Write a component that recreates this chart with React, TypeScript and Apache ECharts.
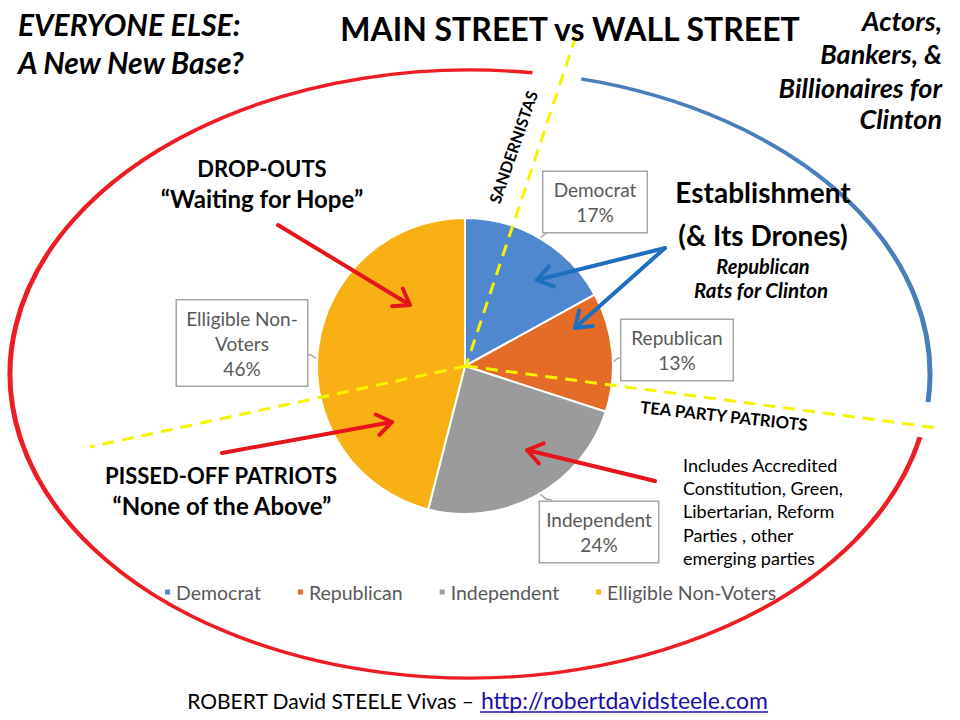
import React, { useEffect, useRef } from "react";
import * as echarts from "echarts";

const categories = ["Democrat", "Republican", "Independent", "Elligible Non-Voters"];
const shares = [17, 13, 24, 46];
const sliceColors = ["#4f88cf", "#e46c26", "#9b9b9b", "#f8b014"];

const FONT = "Lato, 'Open Sans', sans-serif";

// label box centres, inner widths & tails (layout only)
const labelBoxes = [
  { x: 595, y: 202, w: 93, tail: [[540, 238], [548, 232], [554, 232]] },
  { x: 677, y: 350, w: 101, tail: [[612, 363], [618, 358], [622, 358]] },
  { x: 599, y: 532, w: 108, tail: [[540, 494], [546, 499], [552, 500]] },
  { x: 242, y: 343, w: 120, tail: [[318, 360], [311, 355], [307, 355]] },
];

function arrow(x1: number, y1: number, x2: number, y2: number, color: string, w = 4, head = 18) {
  const a = Math.atan2(y2 - y1, x2 - x1);
  const s = (35 * Math.PI) / 180;
  const p1 = [x2 - head * Math.cos(a - s), y2 - head * Math.sin(a - s)];
  const p2 = [x2 - head * Math.cos(a + s), y2 - head * Math.sin(a + s)];
  return [
    { type: "line", z: 20, shape: { x1, y1, x2, y2 }, style: { stroke: color, lineWidth: w, lineCap: "round" } },
    { type: "polyline", z: 20, shape: { points: [p1, [x2, y2], p2] }, style: { stroke: color, lineWidth: w, fill: null, lineCap: "round", lineJoin: "round" } },
  ];
}

function txt(x: number, y: number, text: string, o: any = {}, extra: any = {}) {
  const align = o.align || "center";
  const va = o.verticalAlign || "middle";
  return {
    type: "text",
    x,
    y,
    z: 30,
    ...extra,
    style: {
      text,
      fill: o.fill || "#000",
      fontFamily: o.fontFamily || FONT,
      fontSize: o.fontSize || 20,
      fontWeight: o.fontWeight || "normal",
      fontStyle: o.fontStyle || "normal",
      lineHeight: o.lineHeight,
      align,
      textAlign: align,
      verticalAlign: va,
      textVerticalAlign: va,
    },
  };
}

export default function App() {
  const ref = useRef<HTMLDivElement>(null);
  useEffect(() => {
    if (!ref.current) return;
    const chart = echarts.init(ref.current, undefined, { renderer: "svg" });
    const RX = 460, RY = 304, CX = 470, CY = 374;
    const deg = (d: number) => (d * Math.PI) / 180;
    const yellow = { stroke: "#f4f400", lineWidth: 3, lineDash: [12, 8] };
    const bi = { fontWeight: "bold", fontStyle: "italic" };
    const linkBlue = "#1a0dab";

    const graphic: any[] = [
      // ellipse arcs
      { type: "arc", x: CX, y: CY, scaleY: RY / RX, z: 1, shape: { cx: 0, cy: 0, r: RX, startAngle: deg(12), endAngle: deg(277.8), clockwise: true }, style: { stroke: "#ee1c24", lineWidth: 5, fill: null, strokeNoScale: true } },
      { type: "arc", x: CX, y: CY, scaleY: RY / RX, z: 1, shape: { cx: 0, cy: 0, r: RX, startAngle: deg(284), endAngle: deg(365.3), clockwise: true }, style: { stroke: "#4a7ebb", lineWidth: 5, fill: null, strokeNoScale: true } },
      // yellow dashed dividers
      { type: "line", z: 15, shape: { x1: 576, y1: 36, x2: 466, y2: 366 }, style: yellow },
      { type: "line", z: 15, shape: { x1: 466, y1: 366, x2: 938, y2: 428 }, style: yellow },
      { type: "line", z: 15, shape: { x1: 466, y1: 366, x2: 90, y2: 447 }, style: yellow },
      // arrows
      ...arrow(278, 225, 410, 305, "#e8141c"),
      ...arrow(222, 453, 392, 422, "#e8141c"),
      ...arrow(655, 481, 527, 450, "#e8141c"),
      ...arrow(665, 248, 537, 280, "#1f6fbf"),
      ...arrow(665, 248, 575, 328, "#1f6fbf"),
      // texts
      txt(18, 24, "EVERYONE ELSE:", { ...bi, fontSize: 30, align: "left" }),
      txt(18, 62, "A New New Base?", { ...bi, fontSize: 30, align: "left" }),
      txt(570, 28, "MAIN STREET vs WALL STREET", { fontWeight: "bold", fontSize: 32 }),
      txt(942, 20, "Actors,", { ...bi, fontSize: 27, align: "right" }),
      txt(942, 53, "Bankers, &", { ...bi, fontSize: 27, align: "right" }),
      txt(942, 87, "Billionaires for", { ...bi, fontSize: 27, align: "right" }),
      txt(942, 118, "Clinton", { ...bi, fontSize: 27, align: "right" }),
      txt(262, 168, "DROP-OUTS", { fontWeight: "bold", fontSize: 22 }),
      txt(262, 198, "\u201cWaiting for Hope\u201d", { fontWeight: "bold", fontSize: 24 }),
      txt(221, 475, "PISSED-OFF PATRIOTS", { fontWeight: "bold", fontSize: 22 }),
      txt(222, 505, "\u201cNone of the Above\u201d", { fontWeight: "bold", fontSize: 24 }),
      txt(763, 192, "Establishment", { fontWeight: "bold", fontSize: 28 }),
      txt(763, 235, "(& Its Drones)", { fontWeight: "bold", fontSize: 28 }),
      txt(763, 266, "Republican", { ...bi, fontSize: 20 }),
      txt(761, 290, "Rats for Clinton", { ...bi, fontSize: 20.5 }),
      txt(683, 453, "Includes Accredited\nConstitution, Green,\nLibertarian, Reform\nParties , other\nemerging parties", { fontSize: 18, align: "left", verticalAlign: "top", lineHeight: 23.3 }),
      txt(513, 147, "SANDERNISTAS", { fontWeight: "bold", fontSize: 16 }, { rotation: deg(71) }),
      txt(724, 416, "TEA PARTY PATRIOTS", { fontWeight: "bold", fontSize: 16.7 }, { rotation: deg(-6.2) }),
      // footer
      txt(474, 700, "ROBERT David STEELE Vivas \u2013", { fontSize: 21, align: "right" }),
      txt(768, 700, "http://robertdavidsteele.com", { fontSize: 23, align: "right", fill: linkBlue }),
      { type: "line", z: 30, shape: { x1: 480, y1: 712, x2: 768, y2: 712 }, style: { stroke: linkBlue, lineWidth: 1.3 } },
    ];

    chart.setOption({
      animation: false,
      legend: {
        left: 158,
        top: 577,
        icon: "rect",
        itemWidth: 7,
        itemHeight: 7,
        itemGap: 35,
        selectedMode: false,
        textStyle: { fontFamily: FONT, fontSize: 19.5, color: "#595959" },
        data: categories,
      },
      graphic,
      series: [
        {
          type: "pie",
          center: [465, 366],
          radius: 148,
          startAngle: 90,
          clockwise: true,
          silent: true,
          z: 5,
          itemStyle: { borderColor: "#ffffff", borderWidth: 2 },
          label: {
            show: true,
            position: "outside",
            color: "#595959",
            fontFamily: FONT,
            fontSize: 19,
            lineHeight: 25,
            backgroundColor: "#ffffff",
            borderColor: "#a6a6a6",
            borderWidth: 1.5,
            padding: [5, 5],
            align: "center",
            overflow: "none",
            formatter: (p: any) => `${p.name.replace("Non-Voters", "Non-\nVoters")}\n${Math.round(p.percent)}%`,
          },
          labelLine: { show: true, lineStyle: { color: "#a6a6a6", width: 1.5 } },
          labelLayout: (params: any) => {
            const b = labelBoxes[params.dataIndex];
            return { x: b.x, y: b.y, align: "center", verticalAlign: "middle", labelLinePoints: b.tail };
          },
          data: categories.map((c, i) => ({
            name: c,
            value: shares[i],
            itemStyle: { color: sliceColors[i] },
            label: { width: labelBoxes[i].w },
          })),
        },
      ],
    });
    return () => chart.dispose();
  }, []);
  return <div ref={ref} style={{ position: "fixed", left: 0, top: 0, width: 960, height: 720, background: "#fff" }} />;
}
